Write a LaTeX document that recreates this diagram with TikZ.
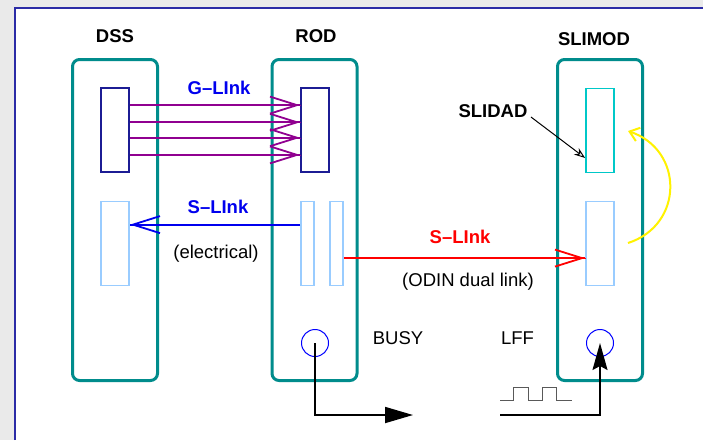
\documentclass[tikz,border=0pt]{standalone}
\usepackage{fontspec}
\setmainfont{Liberation Sans}
\usetikzlibrary{arrows.meta,calc}
\definecolor{panelgray}{HTML}{EAEAEA}
\definecolor{paneledge}{HTML}{2B2BA6}
\definecolor{crateteal}{HTML}{008C8C}
\definecolor{glinkdark}{HTML}{1C1C94}
\definecolor{slinklight}{HTML}{99CCFF}
\definecolor{slidadcyan}{HTML}{00C8C8}
\definecolor{glinkpurple}{HTML}{900090}
\definecolor{linkblue}{HTML}{0000EE}
\newcommand{\figfont}{\fontsize{18.5}{21}\selectfont}
\tikzset{
  crate/.style={draw=crateteal,line width=3pt,rounded corners=7pt,
                minimum width=85pt,minimum height=321pt,inner sep=0pt},
  card/.style={line width=1.8pt,inner sep=0pt,minimum width=28pt,minimum height=84pt},
  thincard/.style={card,minimum width=13pt},
  portdot/.style={circle,draw=blue,line width=1pt,inner sep=0pt,minimum size=27pt},
  modtitle/.style={font=\figfont\bfseries,anchor=base},
  linklbl/.style={font=\figfont\bfseries,anchor=base},
  plainlbl/.style={font=\figfont,anchor=base},
  vtip/.style={-{Straight Barb[length=27pt,width=17pt,sep=0pt]Rectangle[length=0.1pt,width=0.1pt]}},
  glinkarr/.style={vtip,draw=glinkpurple,line width=1.8pt},
  slinkarr/.style={vtip,line width=1.8pt},
  sigarr/.style={draw=black,line width=1.8pt}
}
\begin{document}
\begin{tikzpicture}[x=1pt,y=-1pt,font=\figfont]
  \useasboundingbox (0,0) rectangle (703,440);
  \fill[panelgray] (0,0) rectangle (703,440);
  \fill[white] (15,8) rectangle (703,440);
  \draw[paneledge,line width=1.3pt] (15,440) -- (15,8) -- (703,8);

  \node[crate] (dss) at (115,220) {};
  \node[crate] (rod) at (314.5,220) {};
  \node[crate] (slimod) at (600,220) {};
  \node[modtitle] (dsslbl) at (115,42) {DSS};
  \node[modtitle] (rodlbl) at (316,42) {ROD};
  \node[modtitle] (slimodlbl) at (594,45) {SLIMOD};

  \node[card,draw=glinkdark] (dssup) at (115,130) {};
  \node[card,draw=glinkdark] (rodup) at (315,130) {};
  \node[card,draw=slidadcyan] (slidad) at (600,130.5) {};
  \node[card,draw=slinklight] (dsslo) at (115,243.5) {};
  \node[thincard,draw=slinklight] (rodloa) at (307.5,243.5) {};
  \node[thincard,draw=slinklight] (rodlob) at (336.5,243.5) {};
  \node[card,draw=slinklight] (slimodlo) at (600,243.5) {};
  \node[portdot] (rodbusy) at (315,343) {};
  \node[portdot] (slimodlff) at (600,343) {};

  \foreach \f in {0.21,0.41,0.59,0.79} {
    \draw[glinkarr] ($(dssup.north east)!\f!(dssup.south east)$) -- ($(rodup.north west)!\f!(rodup.south west)$);
  }
  \node[linklbl,text=linkblue] (glinklbl) at (219,94) {G–LInk};

  \draw[slinkarr,draw=linkblue] ($(rodloa.north west)!0.28!(rodloa.south west)$) -- ($(dsslo.north east)!0.28!(dsslo.south east)$);
  \node[linklbl,text=linkblue] (slinklbl) at (218,213) {S–LInk};
  \node[plainlbl] (elecl) at (216,258) {(electrical)};

  \draw[slinkarr,draw=red] ($(rodlob.north east)!0.67!(rodlob.south east)$) -- ($(slimodlo.north west)!0.67!(slimodlo.south west)$);
  \node[linklbl,text=red] (odinlbl) at (460,243) {S–LInk};
  \node[plainlbl] (odinl) at (468,286) {(ODIN dual link)};

  \node[modtitle] (slidadlbl) at (493,117) {SLIDAD};
  \draw[-{Stealth[length=11pt,width=8pt,open]},line width=1pt] (slidadlbl.base east) -- ($(slidad.north west)!0.82!(slidad.south west)$);

  \coordinate (ylwA) at (628,243);
  \coordinate (ylwB) at (628,131);
  \draw[yellow,line width=2pt,-{Straight Barb[length=9pt,width=14pt]}] (ylwA) .. controls (684,225) and (684,150) .. (ylwB);

  \node[plainlbl] (busylbl) at (398,344) {BUSY};
  \node[plainlbl] (lfflbl) at (517.5,344) {LFF};
  \coordinate (busyend) at (413,415);
  \coordinate (lffstart) at (500,415);
  \draw[sigarr,-{Triangle[length=28pt,width=16pt]}] (rodbusy.center) |- (busyend);
  \draw[sigarr,-{Stealth[length=27pt,width=15pt,inset=4pt]}] (lffstart) -| (slimodlff.center);
  \draw[black!65,line width=1pt] (500,400) -- (513,400) -- (513,387) -- (528,387) -- (528,400)
    -- (542,400) -- (542,387) -- (556,387) -- (556,400) -- (572,400);
\end{tikzpicture}
\end{document}
